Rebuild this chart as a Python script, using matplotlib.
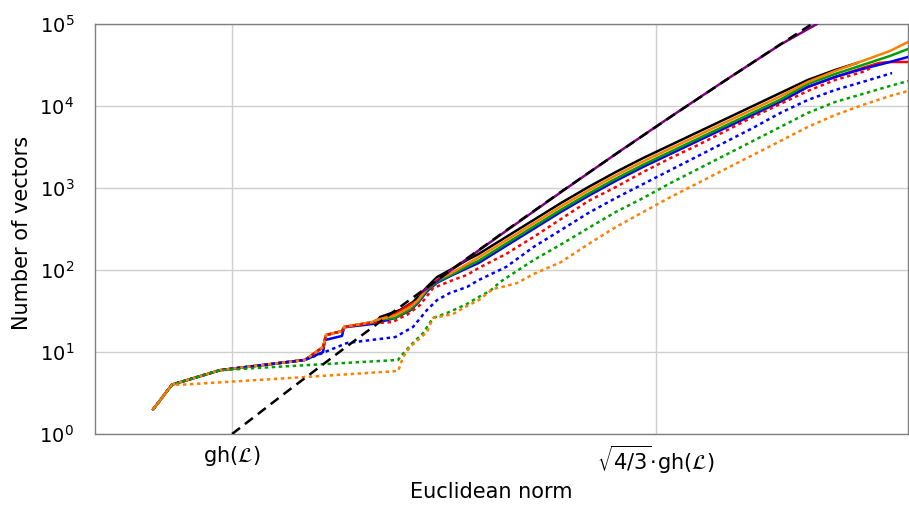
import numpy as np
import matplotlib
matplotlib.use("Agg")
import matplotlib.pyplot as plt
from matplotlib.ticker import FixedLocator, LogLocator, NullLocator

# ---------------- data (x in units of gh(L), y = number of vectors) ----------------
grid_x = [1.09, 1.10, 1.11, 1.12, 1.13, 1.14, 1.15, 1.16, 1.17, 1.18, 1.19, 1.20]
end_x = [1.21, 1.22, 1.23, 1.24, 1.2466]

start_x = [0.9712, 0.9781, 0.9956, 1.0266]
start_n = [2, 4, 6, 8]

top_early_x = [1.0332, 1.0343, 1.0401, 1.0409, 1.0514, 1.0529, 1.0595,
               1.0649, 1.0679, 1.0711, 1.0748, 1.0795, 1.0857]

# black solid
black_x = [1.0529, 1.0540, 1.0613, 1.0660, 1.0711, 1.0748, 1.0795, 1.0857] + grid_x + [1.21, 1.22, 1.228]
black_n = [23.9, 26.7, 32.5, 40.7, 62, 82, 100, 132,
           157, 253, 407, 656, 1028, 1567, 2322, 3345, 4819, 6938, 10000, 14410,
           20750, 27480, 33440]

# orange solid
orange_x = start_x + top_early_x + grid_x + end_x
orange_n = start_n + [11.5, 16.1, 18, 20.2, 23.2, 24.6, 28, 35, 43, 60, 76, 90, 118,
                      143, 230, 370, 597, 935, 1426, 2113, 3044, 4385, 6314, 9100, 13110,
                      19630, 26710, 35400, 46870, 60300]

# green solid
green_x = start_x + top_early_x + grid_x + end_x
green_n = start_n + [11.5, 16.1, 18, 20.2, 23.2, 24.6, 26, 33, 41, 57, 72, 86, 110,
                     130, 210, 338, 544, 853, 1300, 1927, 2776, 4000, 5758, 8300, 11960,
                     18550, 24550, 31620, 40740, 49560]

# blue solid
blue_x = start_x + [1.0332, 1.0339, 1.0401, 1.0409, 1.0514, 1.0595, 1.0649, 1.0679,
                    1.0711, 1.0748, 1.0795, 1.0857] + grid_x + end_x
blue_n = start_n + [10, 14, 15.7, 20, 22, 26, 32, 40, 55, 70, 84, 105,
                    122, 197, 317, 512, 802, 1222, 1811, 2609, 3759, 5412, 7800, 11240,
                    17060, 22590, 28260, 34400, 39600]

# red solid
red_x = start_x + top_early_x + grid_x + [1.21, 1.22, 1.23, 1.236, 1.24, 1.2466]
red_n = start_n + [11.5, 16.1, 18, 20.2, 23.2, 24.6, 29, 38, 42, 58, 73, 87, 112,
                   126, 202, 326, 525, 822, 1254, 1858, 2676, 3855, 5550, 8000, 11530,
                   17060, 22590, 29060, 33440, 34400, 34400]

# purple solid
purple_x = [1.068, 1.08, 1.10, 1.12, 1.14, 1.16, 1.18, 1.20, 1.2134]
purple_n = [50, 100, 300, 890, 2600, 7400, 20600, 56000, 100000]

# red dotted
redd_x = start_x + [1.0332, 1.0343, 1.0401, 1.0409, 1.0514, 1.0529, 1.0587, 1.0613,
                    1.0638, 1.0686, 1.0733, 1.0806, 1.0857] + grid_x + [1.21, 1.22, 1.23, 1.233]
redd_n = start_n + [11.5, 16.1, 18, 20.2, 22.6, 22.6, 23.2, 26, 28.3, 37.4, 60, 75.5, 87,
                    106, 157, 253, 419, 694, 1028, 1567, 2322, 3345, 4955, 7345, 10570,
                    15240, 20750, 26000, 29060]

# blue dotted
blued_x = start_x + [1.0339, 1.0420, 1.0595, 1.0660, 1.0711, 1.0748, 1.0795, 1.0857] + grid_x + \
          [1.21, 1.22, 1.23, 1.2408]
blued_n = start_n + [10, 12.9, 15.2, 20.2, 32.5, 43, 52.5, 62,
                     75.5, 109, 191, 307, 496, 755, 1119, 1660, 2455, 3639, 5395, 8222,
                     11830, 15670, 19630, 25250]

# green dotted
greend_x = [0.9712, 0.9781, 0.9956, 1.0266, 1.0606, 1.0613, 1.0660, 1.0697, 1.0733,
            1.0784, 1.0857, 1.09, 1.0941, 1.0978] + grid_x[1:] + end_x
greend_n = [2, 4, 6, 6.9, 8.0, 8.7, 12.9, 17, 26, 29.9, 38.5, 46.9, 55.5, 71.4,
            80, 132, 205, 325, 510, 755, 1151, 1706, 2525, 3741, 5546,
            8222, 11190, 14000, 17540, 20170]

# orange dotted
oranged_x = [0.9712, 0.9781, 0.9821, 1.0212, 1.0606, 1.0624, 1.0649, 1.0711, 1.0733,
             1.0806, 1.0857, 1.09, 1.0952, 1.10, 1.104, 1.11] + grid_x[3:] + end_x
oranged_n = [2, 4, 4.0, 4.82, 5.87, 8.7, 11.5, 17.5, 26, 29, 36.4, 43, 58.7, 63.8, 69.4, 89.4,
             125, 207, 334, 510, 777, 1151, 1706, 2525, 3741,
             5546, 7766, 10280, 13250, 15240]

# dashed black reference line
dash_x = [1.00, 1.02, 1.04, 1.06, 1.08, 1.10, 1.12, 1.14, 1.16, 1.18, 1.20, 1.22]
dash_n = [1, 3.28, 10.5, 33, 101, 304, 898, 2594, 7370, 20540, 56350, 152000]

tick_pos = [1.0, np.sqrt(4 / 3)]
tick_labels = [r"gh($\mathcal{L}$)", r"$\sqrt{4/3}\!\cdot\!$gh($\mathcal{L}$)"]

# ---------------- plot ----------------
fig = plt.figure(figsize=(9.09, 5.08), dpi=100)
ax = fig.add_axes([95 / 909, (508 - 434) / 508, (908 - 95) / 909, (434 - 24) / 508])

C_RED, C_BLUE, C_GREEN, C_ORANGE, C_PURPLE = "#ff0000", "#0000ff", "#00a000", "#ff8000", "#800080"
lw = 1.8
dot = (0, (1.4, 1.4))

ax.plot(black_x, black_n, color="black", lw=lw, zorder=3)
ax.plot(red_x, red_n, color=C_RED, lw=lw, zorder=3)
ax.plot(blue_x, blue_n, color=C_BLUE, lw=lw, zorder=3)
ax.plot(green_x, green_n, color=C_GREEN, lw=lw, zorder=3)
ax.plot(orange_x, orange_n, color=C_ORANGE, lw=lw, zorder=3)
ax.plot(purple_x, purple_n, color=C_PURPLE, lw=lw, zorder=3)
ax.plot(redd_x, redd_n, color=C_RED, lw=lw, ls=dot, zorder=4)
ax.plot(blued_x, blued_n, color=C_BLUE, lw=lw, ls=dot, zorder=4)
ax.plot(greend_x, greend_n, color=C_GREEN, lw=lw, ls=dot, zorder=4)
ax.plot(oranged_x, oranged_n, color=C_ORANGE, lw=lw, ls=dot, zorder=4)
ax.plot(dash_x, dash_n, color="black", lw=lw, ls=(0, (4, 2.5)), zorder=5)

ax.set_yscale("log")
ax.set_xlim(0.95, 1.2466)
ax.set_ylim(1, 1e5)
ax.yaxis.set_major_locator(LogLocator(base=10, numticks=10))
ax.yaxis.set_minor_locator(NullLocator())
ax.xaxis.set_major_locator(FixedLocator(tick_pos))
ax.set_xticklabels(tick_labels)

ax.grid(True, color="#cfcfcf", lw=1.0, zorder=0)
ax.set_axisbelow(True)
for s in ax.spines.values():
    s.set_color("#808080")
    s.set_linewidth(1.0)
ax.tick_params(axis="both", length=0, labelsize=15, colors="black")
ax.tick_params(axis="y", pad=15, labelsize=14)
ax.tick_params(axis="x", pad=7)

ax.set_xlabel("Euclidean norm", fontsize=15)
ax.xaxis.set_label_coords((491 - 95) / 813, -0.118)
ax.set_ylabel("Number of vectors", fontsize=15)
ax.yaxis.set_label_coords(-0.078, 0.49)

fig.savefig("out.png", dpi=100)
